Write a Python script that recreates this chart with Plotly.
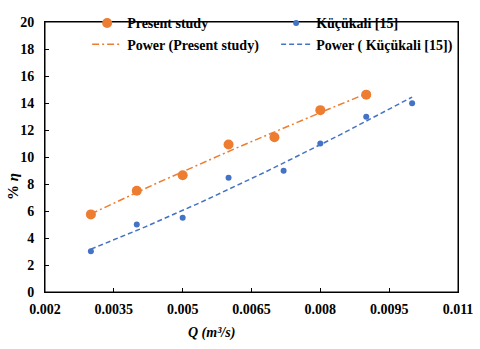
import numpy as np
import plotly.graph_objects as go

# flow rate Q (m3/s) and efficiency (%)
q_present = [0.003, 0.004, 0.005, 0.006, 0.007, 0.008, 0.009]
eta_present = [5.75, 7.5, 8.65, 10.92, 11.46, 13.47, 14.62]

q_kucukali = [0.003, 0.004, 0.005, 0.006, 0.0072, 0.008, 0.009, 0.010]
eta_kucukali = [3.02, 5.0, 5.5, 8.47, 8.98, 11.0, 12.98, 13.99]

x_tickvals = [0.002, 0.0035, 0.005, 0.0065, 0.008, 0.0095, 0.011]
x_ticktext = ["0.002", "0.0035", "0.005", "0.0065", "0.008", "0.0095", "0.011"]

ORANGE = "#ED7D31"
BLUE = "#4472C4"
FONT = "Liberation Serif"


def power_fit(x, y):
    # excel style power trendline: least squares in log space
    b, lna = np.polyfit(np.log(x), np.log(y), 1)
    xs = np.linspace(min(x), max(x), 60)
    return xs, np.exp(lna) * xs ** b


fig = go.Figure()
fig.add_trace(go.Scatter(x=q_present, y=eta_present, mode="markers",
                         name="Present study",
                         marker=dict(color=ORANGE, size=10)))
fig.add_trace(go.Scatter(x=q_kucukali, y=eta_kucukali, mode="markers",
                         name="Küçükali [15]",
                         marker=dict(color=BLUE, size=6)))

xs, ys = power_fit(q_present, eta_present)
fig.add_trace(go.Scatter(x=xs, y=ys, mode="lines", name="Power (Present study)",
                         line=dict(color=ORANGE, width=1.5, dash="7px,3px,2px,3px")))
xs, ys = power_fit(q_kucukali, eta_kucukali)
fig.add_trace(go.Scatter(x=xs, y=ys, mode="lines", name="Power ( Küçükali [15])",
                         line=dict(color=BLUE, width=1.5, dash="5px,3px")))

axis_common = dict(showline=True, linecolor="black", linewidth=1, mirror=True,
                   ticks="inside", ticklen=4, tickcolor="black", showgrid=False,
                   zeroline=False, ticklabeloverflow="allow",
                   tickfont=dict(family=FONT, size=14, color="black", weight="bold"))

fig.update_xaxes(range=[0.002, 0.011], tickmode="array", tickvals=x_tickvals,
                 ticktext=x_ticktext, ticklabelstandoff=4, **axis_common)
fig.update_yaxes(range=[0, 20], dtick=2, ticklabelstandoff=7, **axis_common)

# plot frame
fig.add_shape(type="rect", xref="paper", yref="paper", x0=0, x1=1, y0=0, y1=1,
              line=dict(color="black", width=1), layer="above")

fig.add_annotation(text="<b><i>Q (m³/s)</i></b>", xref="paper", yref="paper",
                   x=0.404, y=-0.152, xanchor="center", yanchor="middle",
                   showarrow=False,
                   font=dict(family=FONT, size=14, color="black"))
fig.add_annotation(text="<b>% <i>η</i></b>", xref="paper", yref="paper",
                   x=-0.0775, y=0.393, xanchor="center", yanchor="middle",
                   textangle=-90, showarrow=False,
                   font=dict(family=FONT, size=15, color="black"))

fig.update_layout(
    width=480, height=349,
    margin=dict(l=45, r=22, t=7, b=57),
    plot_bgcolor="white", paper_bgcolor="white",
    font=dict(family=FONT, color="black"),
    legend=dict(orientation="h", x=0.102, y=1.054, xanchor="left", yanchor="top",
                entrywidth=144, bgcolor="rgba(0,0,0,0)",
                font=dict(family=FONT, size=14, color="black", weight="bold")),
)

# drop the default page margin so the chart sits at the window corner
fig.write_html("out.html", config={"displayModeBar": False},
               post_script="document.body.style.margin='0';")
